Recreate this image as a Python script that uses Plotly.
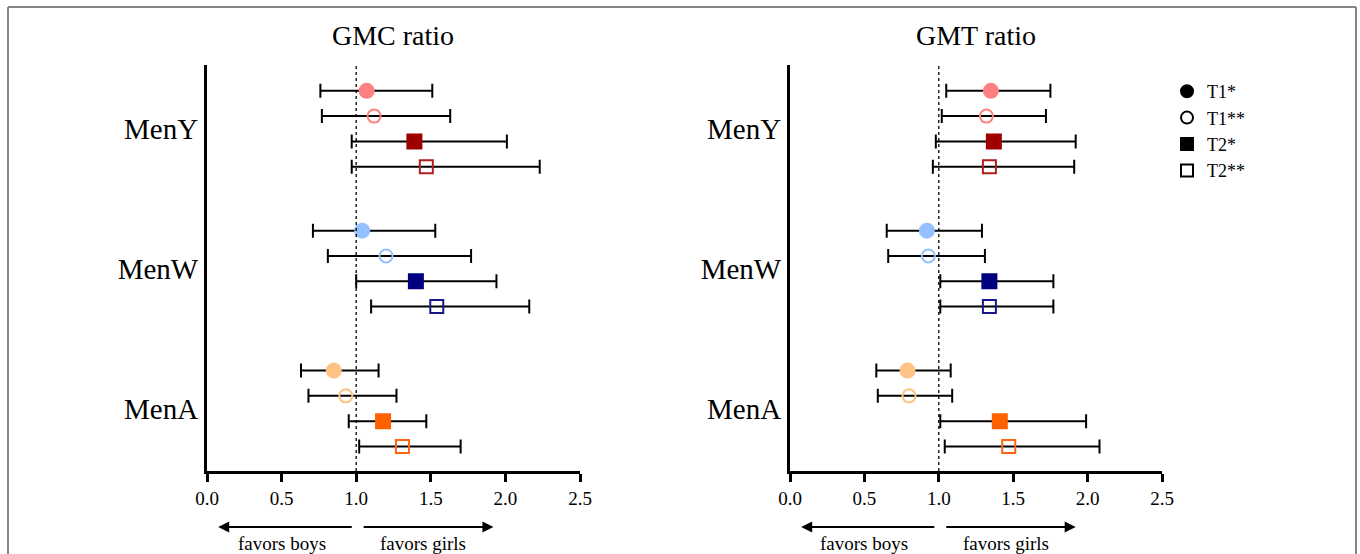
import plotly.graph_objects as go

# ---------------- data ----------------
groups = ["MenY", "MenW", "MenA"]
series = ["T1*", "T1**", "T2*", "T2**"]

# GMC ratio (left panel): point estimate, lower CI, upper CI; rows = group, cols = series
gmc_est = [[1.07, 1.12, 1.39, 1.47],
           [1.04, 1.20, 1.40, 1.54],
           [0.85, 0.93, 1.18, 1.31]]
gmc_lo = [[0.76, 0.77, 0.97, 0.97],
          [0.71, 0.81, 1.00, 1.10],
          [0.63, 0.68, 0.95, 1.02]]
gmc_hi = [[1.51, 1.63, 2.01, 2.23],
          [1.53, 1.77, 1.94, 2.16],
          [1.15, 1.27, 1.47, 1.70]]

# GMT ratio (right panel)
gmt_est = [[1.35, 1.32, 1.37, 1.34],
           [0.92, 0.93, 1.34, 1.34],
           [0.79, 0.80, 1.41, 1.47]]
gmt_lo = [[1.05, 1.02, 0.98, 0.96],
          [0.65, 0.66, 1.01, 1.01],
          [0.58, 0.59, 1.01, 1.04]]
gmt_hi = [[1.75, 1.72, 1.92, 1.91],
          [1.29, 1.31, 1.77, 1.77],
          [1.08, 1.09, 1.99, 2.08]]

x_ticks = [0.0, 0.5, 1.0, 1.5, 2.0, 2.5]
x_tick_labels = ["0.0", "0.5", "1.0", "1.5", "2.0", "2.5"]
panel_titles = ["GMC ratio", "GMT ratio"]

# ---------------- styles ----------------
light_cols = {"MenY": "#ff8080", "MenW": "#94c0ff", "MenA": "#ffc285"}
dark_cols = {"MenY": "#9e0000", "MenW": "#000080", "MenA": "#ff6000"}
open_dark_cols = {"MenY": "#b01e1e", "MenW": "#18188c", "MenA": "#ff6414"}
symbols = {"T1*": "circle", "T1**": "circle-open", "T2*": "square", "T2**": "square-open"}

FONT = "Liberation Serif, Times New Roman, serif"
W, H = 1360, 554
GROUP_STEP = 5.53            # row units between groups


def px_x(p):
    """reference pixel x -> paper fraction"""
    return p / W


def px_y(p):
    """reference pixel y -> paper fraction"""
    return 1 - p / H


def ypos(gi, si):
    return gi * GROUP_STEP + si


fig = go.Figure()

panels = [("x", "y", gmc_est, gmc_lo, gmc_hi), ("x2", "y2", gmt_est, gmt_lo, gmt_hi)]
for xa, ya, est, lo, hi in panels:
    for gi, g in enumerate(groups):
        for si, s in enumerate(series):
            if s.startswith("T1"):
                col = light_cols[g]
            elif s == "T2*":
                col = dark_cols[g]
            else:
                col = open_dark_cols[g]
            is_open = s.endswith("**")
            fig.add_trace(go.Scatter(
                x=[est[gi][si]], y=[ypos(gi, si)], xaxis=xa, yaxis=ya,
                mode="markers", showlegend=False,
                marker=dict(symbol=symbols[s], size=13 if is_open else 14, color=col,
                            line=dict(width=2, color=col)),
                error_x=dict(type="data", symmetric=False,
                             array=[hi[gi][si] - est[gi][si]],
                             arrayminus=[est[gi][si] - lo[gi][si]],
                             color="black", thickness=2, width=7),
            ))

# legend entries (black symbols)
for s in series:
    fig.add_trace(go.Scatter(x=[None], y=[None], mode="markers", name=s,
                             marker=dict(symbol=symbols[s], size=14, color="black",
                                         line=dict(width=2, color="black"))))

# ---------------- layout ----------------
ydom = [px_y(471), px_y(65)]
xdom1 = [px_x(207), px_x(580)]
xdom2 = [px_x(790), px_x(1162)]
y_range = [15.03, -1.02]
group_centers = [ypos(gi, 1.5) for gi in range(len(groups))]

xaxis_common = dict(range=[0, 2.5], tickvals=x_ticks, ticktext=x_tick_labels,
                    showline=True, linecolor="black", linewidth=2.5,
                    ticks="outside", ticklen=8, tickwidth=2.5, tickcolor="black",
                    showgrid=False, zeroline=False, automargin=False,
                    tickfont=dict(family=FONT, size=19, color="black"))
yaxis_common = dict(range=y_range, tickvals=group_centers, ticktext=groups,
                    showline=True, linecolor="black", linewidth=3,
                    ticks="", showgrid=False, zeroline=False, automargin=False,
                    tickfont=dict(family=FONT, size=29, color="black"))

fig.update_layout(
    width=W, height=H,
    margin=dict(l=0, r=0, t=0, b=0, pad=0, autoexpand=False),
    paper_bgcolor="white", plot_bgcolor="white",
    xaxis=dict(domain=xdom1, anchor="y", **xaxis_common),
    yaxis=dict(domain=ydom, anchor="x", **yaxis_common),
    xaxis2=dict(domain=xdom2, anchor="y2", **xaxis_common),
    yaxis2=dict(domain=ydom, anchor="x2", **yaxis_common),
    legend=dict(x=px_x(1167), y=px_y(73), xanchor="left", yanchor="top",
                font=dict(family=FONT, size=18, color="black"),
                bgcolor="rgba(0,0,0,0)", itemsizing="constant"),
    showlegend=True,
)

shapes = []
for xa in ["x", "x2"]:
    shapes.append(dict(type="line", xref=xa, yref=("y" if xa == "x" else "y2") + " domain",
                       x0=1.0, x1=1.0, y0=0, y1=1,
                       line=dict(color="black", width=1.3, dash="dot")))
# figure frame (top, left, right edges)
frame_line = dict(color="#858585", width=2)
fx0, fx1, fy1 = px_x(8), px_x(1356), px_y(7)
shapes.append(dict(type="line", xref="paper", yref="paper", x0=fx0, x1=fx1, y0=fy1, y1=fy1,
                   line=frame_line))
shapes.append(dict(type="line", xref="paper", yref="paper", x0=fx0, x1=fx0, y0=0, y1=fy1,
                   line=frame_line))
shapes.append(dict(type="line", xref="paper", yref="paper", x0=fx1, x1=fx1, y0=0, y1=fy1,
                   line=frame_line))
fig.update_layout(shapes=shapes)

annotations = []
arrow_y = px_y(527)
text_y = px_y(543)
title_y = px_y(35)
for xa, title in zip(["x", "x2"], panel_titles):
    dom = xdom1 if xa == "x" else xdom2
    annotations.append(dict(text=title, xref="paper", yref="paper",
                            x=(dom[0] + dom[1]) / 2, y=title_y, showarrow=False,
                            xanchor="center", yanchor="middle",
                            font=dict(family=FONT, size=28, color="black")))
    # favors boys arrow (points left)
    annotations.append(dict(text="", xref=xa, yref="paper", x=0.075, y=arrow_y,
                            axref=xa, ax=0.98, ayref="pixel", ay=0,
                            showarrow=True, arrowhead=2, arrowsize=1.1,
                            arrowwidth=2, arrowcolor="black"))
    # favors girls arrow (points right)
    annotations.append(dict(text="", xref=xa, yref="paper", x=1.92, y=arrow_y,
                            axref=xa, ax=1.04, ayref="pixel", ay=0,
                            showarrow=True, arrowhead=2, arrowsize=1.1,
                            arrowwidth=2, arrowcolor="black"))
    annotations.append(dict(text="favors boys", xref=xa, yref="paper", x=0.50, y=text_y,
                            showarrow=False, xanchor="center", yanchor="middle",
                            font=dict(family=FONT, size=19, color="black")))
    annotations.append(dict(text="favors girls", xref=xa, yref="paper", x=1.45, y=text_y,
                            showarrow=False, xanchor="center", yanchor="middle",
                            font=dict(family=FONT, size=19, color="black")))
fig.update_layout(annotations=annotations)

fig.write_html("out.html",
               config={"displayModeBar": False},
               post_script="document.body.style.margin='0';document.body.style.overflow='hidden';")
